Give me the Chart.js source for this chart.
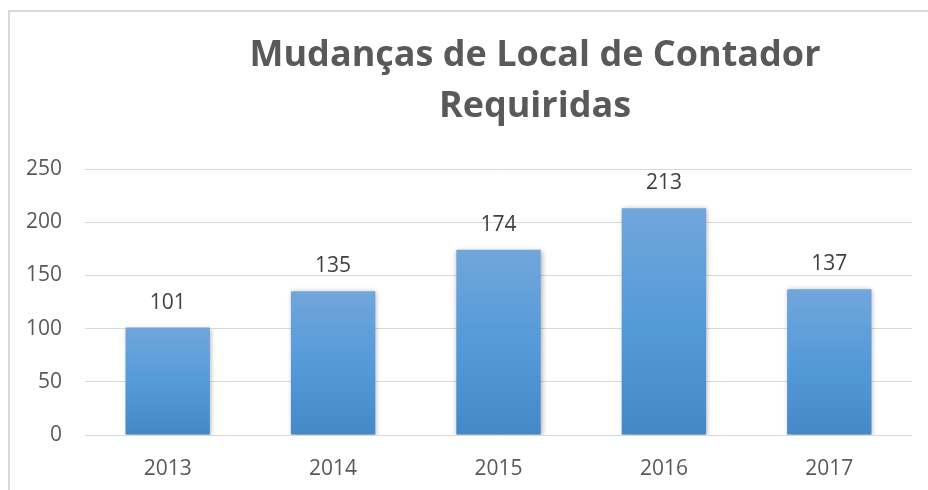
<!DOCTYPE html>
<html>
<head>
<meta charset="utf-8">
<script src="https://cdn.jsdelivr.net/npm/chart.js@4"></script>
<style>
    html, body { margin: 0; padding: 0; background: #fff; overflow: hidden; }
    #frame {
        position: absolute; left: 8px; top: 10px; width: 1200px; height: 600px;
        border-left: 2px solid #d9d9d9; border-top: 2px solid #d9d9d9;
    }
    #wrap { position: absolute; left: 0; top: 0; width: 928px; height: 490px; }
</style>
</head>
<body>
<div id="frame"></div>
<div id="wrap"><canvas id="chart" width="928" height="490"></canvas></div>
<script>
const titleLines = ['Mudanças de Local de Contador', 'Requiridas'];
const years = ['2013', '2014', '2015', '2016', '2017'];
const requests = [101, 135, 174, 213, 137];
const yTicks = [0, 50, 100, 150, 200, 250];

const FONT = "'Open Sans', sans-serif";

// per-bar vertical gradient, lighter at the top like the Excel style
function barFill(ctx) {
    const chart = ctx.chart;
    const y = chart.scales.y;
    if (!y || !chart.chartArea) return '#5b9bd5';
    const top = y.getPixelForValue(ctx.raw);
    const bottom = y.getPixelForValue(0);
    const g = chart.ctx.createLinearGradient(0, top, 0, bottom);
    g.addColorStop(0, '#71a6db');
    g.addColorStop(0.5, '#559ad9');
    g.addColorStop(1, '#4588c8');
    return g;
}

const shadowPlugin = {
    id: 'barShadow',
    beforeDatasetsDraw(chart) {
        const c = chart.ctx;
        c.save();
        c.shadowColor = 'rgba(0,0,0,0.35)';
        c.shadowBlur = 5;
        c.shadowOffsetX = 1;
        c.shadowOffsetY = 1;
    },
    afterDatasetsDraw(chart) {
        chart.ctx.restore();
    }
};

const valueLabels = {
    id: 'valueLabels',
    afterDatasetsDraw(chart) {
        const c = chart.ctx;
        const meta = chart.getDatasetMeta(0);
        c.save();
        c.font = '21px ' + FONT;
        c.fillStyle = '#404040';
        c.textAlign = 'center';
        c.textBaseline = 'middle';
        meta.data.forEach((bar, i) => {
            c.fillText(String(requests[i]), bar.x, bar.y - 25);
        });
        c.restore();
    }
};

// title is centred on the full (uncropped) chart frame, not on the canvas
const chartTitle = {
    id: 'chartTitle',
    afterDraw(chart) {
        const c = chart.ctx;
        c.save();
        c.font = 'bold 36px ' + FONT;
        c.fillStyle = '#595959';
        c.textAlign = 'center';
        c.textBaseline = 'middle';
        titleLines.forEach((line, i) => c.fillText(line, 535, 56 + i * 51));
        c.restore();
    }
};

new Chart(document.getElementById('chart'), {
    type: 'bar',
    data: {
        labels: years,
        datasets: [{
            data: requests,
            backgroundColor: barFill,
            borderWidth: 0,
            barPercentage: 0.51,
            categoryPercentage: 1,
        }]
    },
    plugins: [shadowPlugin, valueLabels, chartTitle],
    options: {
        responsive: false,
        animation: false,
        layout: { padding: { left: 0, right: 16, top: 169, bottom: 0 } },
        plugins: {
            legend: { display: false },
            tooltip: { enabled: false },
            title: { display: false }
        },
        scales: {
            x: {
                grid: { display: false },
                border: { display: false },
                ticks: {
                    color: '#595959',
                    font: { family: FONT, size: 21 },
                    padding: 13,
                },
                afterFit: s => { s.height = 55; }
            },
            y: {
                min: 0,
                max: 250,
                afterBuildTicks: s => { s.ticks = yTicks.map(v => ({ value: v })); },
                grid: { color: '#d9d9d9', lineWidth: 1, drawTicks: false },
                border: { display: false },
                ticks: {
                    color: '#595959',
                    font: { family: FONT, size: 21 },
                    padding: 23,
                },
                afterFit: s => { s.width = 85; }
            }
        }
    }
});
</script>
</body>
</html>
